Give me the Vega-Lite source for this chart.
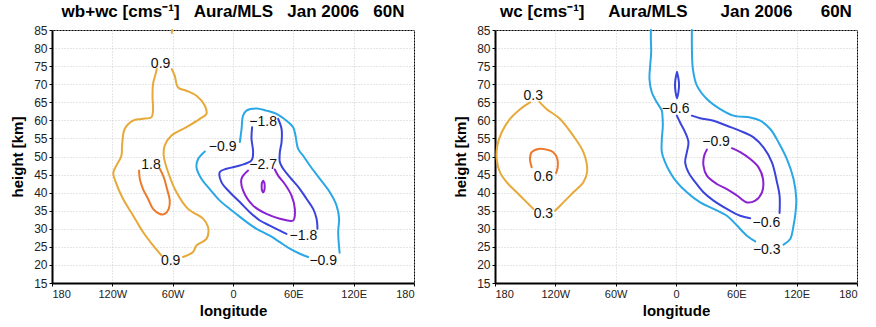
{
  "$schema": "https://vega.github.io/schema/vega-lite/v6.json",
  "padding": {"left": 10, "top": 2, "right": 5, "bottom": 5},
  "spacing": 38,
  "config": {
    "font": "Liberation Sans",
    "view": {"stroke": "#000", "strokeWidth": 1},
    "axis": {
      "domainColor": "#000", "domainWidth": 2, "tickColor": "#000", "tickSize": 3,
      "labelFontSize": 11, "labelColor": "#222", "labelPadding": 2, "labelOverlap": false, "labelFont": "Liberation Sans",
      "titleFontSize": 15, "titleFontWeight": "bold", "titleColor": "#000", "titleFont": "Liberation Sans",
      "grid": true, "gridColor": "#cccccc", "gridDash": [1, 2], "gridWidth": 1
    },
    "title": {"fontSize": 17, "fontWeight": "bold", "color": "#000", "font": "Liberation Sans"},
    "style": {"group-title": {"fontSize": 17, "fontWeight": "bold", "color": "#000", "font": "Liberation Sans"}}
  },
  "resolve": {"scale": {"color": "independent"}},
  "datasets": {
    "la": [
      {"seg": "p9a", "level": "0.9", "i": 0, "lon": -75.8, "h": 74.2},
      {"seg": "p9a", "level": "0.9", "i": 1, "lon": -76.8, "h": 73},
      {"seg": "p9a", "level": "0.9", "i": 2, "lon": -79.5, "h": 70.1},
      {"seg": "p9a", "level": "0.9", "i": 3, "lon": -80, "h": 66},
      {"seg": "p9a", "level": "0.9", "i": 4, "lon": -79.5, "h": 63.6},
      {"seg": "p9a", "level": "0.9", "i": 5, "lon": -81.1, "h": 60.9},
      {"seg": "p9a", "level": "0.9", "i": 6, "lon": -91.1, "h": 60.4},
      {"seg": "p9a", "level": "0.9", "i": 7, "lon": -99.4, "h": 59.9},
      {"seg": "p9a", "level": "0.9", "i": 8, "lon": -107.7, "h": 57.6},
      {"seg": "p9a", "level": "0.9", "i": 9, "lon": -110.3, "h": 53},
      {"seg": "p9a", "level": "0.9", "i": 10, "lon": -111, "h": 50.2},
      {"seg": "p9a", "level": "0.9", "i": 11, "lon": -119, "h": 45.5},
      {"seg": "p9a", "level": "0.9", "i": 12, "lon": -116.6, "h": 42.9},
      {"seg": "p9a", "level": "0.9", "i": 13, "lon": -109.4, "h": 38.3},
      {"seg": "p9a", "level": "0.9", "i": 14, "lon": -99.4, "h": 33.7},
      {"seg": "p9a", "level": "0.9", "i": 15, "lon": -89.5, "h": 29.1},
      {"seg": "p9a", "level": "0.9", "i": 16, "lon": -79.5, "h": 25.4},
      {"seg": "p9a", "level": "0.9", "i": 17, "lon": -71.1, "h": 22.6},
      {"seg": "p9b", "level": "0.9", "i": 0, "lon": -60.9, "h": 74.2},
      {"seg": "p9b", "level": "0.9", "i": 1, "lon": -57.9, "h": 72.3},
      {"seg": "p9b", "level": "0.9", "i": 2, "lon": -54.6, "h": 69.1},
      {"seg": "p9b", "level": "0.9", "i": 3, "lon": -46.3, "h": 68.2},
      {"seg": "p9b", "level": "0.9", "i": 4, "lon": -36.3, "h": 66.8},
      {"seg": "p9b", "level": "0.9", "i": 5, "lon": -28.1, "h": 64.1},
      {"seg": "p9b", "level": "0.9", "i": 6, "lon": -26.4, "h": 61.8},
      {"seg": "p9b", "level": "0.9", "i": 7, "lon": -33, "h": 60.4},
      {"seg": "p9b", "level": "0.9", "i": 8, "lon": -46.3, "h": 58.1},
      {"seg": "p9b", "level": "0.9", "i": 9, "lon": -61.2, "h": 55.8},
      {"seg": "p9b", "level": "0.9", "i": 10, "lon": -67.9, "h": 53},
      {"seg": "p9b", "level": "0.9", "i": 11, "lon": -68.9, "h": 50.2},
      {"seg": "p9b", "level": "0.9", "i": 12, "lon": -64.6, "h": 45.7},
      {"seg": "p9b", "level": "0.9", "i": 13, "lon": -56.2, "h": 40.1},
      {"seg": "p9b", "level": "0.9", "i": 14, "lon": -44.7, "h": 35.5},
      {"seg": "p9b", "level": "0.9", "i": 15, "lon": -29.8, "h": 32.8},
      {"seg": "p9b", "level": "0.9", "i": 16, "lon": -24.8, "h": 30.5},
      {"seg": "p9b", "level": "0.9", "i": 17, "lon": -26.4, "h": 27.2},
      {"seg": "p9b", "level": "0.9", "i": 18, "lon": -36.3, "h": 25.4},
      {"seg": "p9b", "level": "0.9", "i": 19, "lon": -39.7, "h": 23.6},
      {"seg": "p9b", "level": "0.9", "i": 20, "lon": -49.7, "h": 22.2},
      {"seg": "p9c", "level": "0.9", "i": 0, "lon": -60.6, "h": 85},
      {"seg": "p9c", "level": "0.9", "i": 1, "lon": -60.9, "h": 84.2},
      {"seg": "p18", "level": "1.8", "i": 0, "lon": -93.4, "h": 46.1},
      {"seg": "p18", "level": "1.8", "i": 1, "lon": -92.7, "h": 43.8},
      {"seg": "p18", "level": "1.8", "i": 2, "lon": -89.5, "h": 41},
      {"seg": "p18", "level": "1.8", "i": 3, "lon": -84.5, "h": 38.3},
      {"seg": "p18", "level": "1.8", "i": 4, "lon": -79.5, "h": 35.5},
      {"seg": "p18", "level": "1.8", "i": 5, "lon": -72.8, "h": 34.1},
      {"seg": "p18", "level": "1.8", "i": 6, "lon": -67.9, "h": 34.1},
      {"seg": "p18", "level": "1.8", "i": 7, "lon": -63.9, "h": 35.5},
      {"seg": "p18", "level": "1.8", "i": 8, "lon": -62.9, "h": 37.8},
      {"seg": "p18", "level": "1.8", "i": 9, "lon": -65.6, "h": 41},
      {"seg": "p18", "level": "1.8", "i": 10, "lon": -68.9, "h": 44.3},
      {"seg": "p18", "level": "1.8", "i": 11, "lon": -72.8, "h": 46.6},
      {"seg": "n9a", "level": "-0.9", "i": 0, "lon": -28, "h": 51.4},
      {"seg": "n9a", "level": "-0.9", "i": 1, "lon": -34.7, "h": 49.3},
      {"seg": "n9a", "level": "-0.9", "i": 2, "lon": -36.3, "h": 47},
      {"seg": "n9a", "level": "-0.9", "i": 3, "lon": -31.3, "h": 43.8},
      {"seg": "n9a", "level": "-0.9", "i": 4, "lon": -23.1, "h": 41},
      {"seg": "n9a", "level": "-0.9", "i": 5, "lon": -13.1, "h": 37.8},
      {"seg": "n9a", "level": "-0.9", "i": 6, "lon": -3.2, "h": 35.5},
      {"seg": "n9a", "level": "-0.9", "i": 7, "lon": 5.1, "h": 33.7},
      {"seg": "n9a", "level": "-0.9", "i": 8, "lon": 13.4, "h": 31.9},
      {"seg": "n9a", "level": "-0.9", "i": 9, "lon": 23.4, "h": 30},
      {"seg": "n9a", "level": "-0.9", "i": 10, "lon": 36.6, "h": 28.1},
      {"seg": "n9a", "level": "-0.9", "i": 11, "lon": 46.6, "h": 26.3},
      {"seg": "n9a", "level": "-0.9", "i": 12, "lon": 56.5, "h": 24.5},
      {"seg": "n9a", "level": "-0.9", "i": 13, "lon": 66.5, "h": 23.1},
      {"seg": "n9a", "level": "-0.9", "i": 14, "lon": 74.7, "h": 22.2},
      {"seg": "n9b", "level": "-0.9", "i": 0, "lon": 6.8, "h": 54},
      {"seg": "n9b", "level": "-0.9", "i": 1, "lon": 8.5, "h": 57.6},
      {"seg": "n9b", "level": "-0.9", "i": 2, "lon": 10, "h": 61.3},
      {"seg": "n9b", "level": "-0.9", "i": 3, "lon": 13.4, "h": 62.7},
      {"seg": "n9b", "level": "-0.9", "i": 4, "lon": 23.4, "h": 63.3},
      {"seg": "n9b", "level": "-0.9", "i": 5, "lon": 33.3, "h": 62.7},
      {"seg": "n9b", "level": "-0.9", "i": 6, "lon": 43.3, "h": 61.8},
      {"seg": "n9b", "level": "-0.9", "i": 7, "lon": 53.2, "h": 59.9},
      {"seg": "n9b", "level": "-0.9", "i": 8, "lon": 59.8, "h": 58.1},
      {"seg": "n9b", "level": "-0.9", "i": 9, "lon": 62, "h": 56},
      {"seg": "n9b", "level": "-0.9", "i": 10, "lon": 64.8, "h": 52.1},
      {"seg": "n9b", "level": "-0.9", "i": 11, "lon": 69.8, "h": 50.2},
      {"seg": "n9b", "level": "-0.9", "i": 12, "lon": 76.4, "h": 47.5},
      {"seg": "n9b", "level": "-0.9", "i": 13, "lon": 86.4, "h": 43.8},
      {"seg": "n9b", "level": "-0.9", "i": 14, "lon": 96.3, "h": 40.1},
      {"seg": "n9b", "level": "-0.9", "i": 15, "lon": 103, "h": 36.4},
      {"seg": "n9b", "level": "-0.9", "i": 16, "lon": 105.5, "h": 32.8},
      {"seg": "n9b", "level": "-0.9", "i": 17, "lon": 104.6, "h": 29.1},
      {"seg": "n9b", "level": "-0.9", "i": 18, "lon": 106, "h": 23.4},
      {"seg": "n18a", "level": "-1.8", "i": 0, "lon": 19, "h": 58.1},
      {"seg": "n18a", "level": "-1.8", "i": 1, "lon": 18.4, "h": 54.9},
      {"seg": "n18a", "level": "-1.8", "i": 2, "lon": 20, "h": 51.2},
      {"seg": "n18a", "level": "-1.8", "i": 3, "lon": 18.4, "h": 48.9},
      {"seg": "n18a", "level": "-1.8", "i": 4, "lon": 6.8, "h": 47.5},
      {"seg": "n18a", "level": "-1.8", "i": 5, "lon": -6.5, "h": 46.6},
      {"seg": "n18a", "level": "-1.8", "i": 6, "lon": -13.1, "h": 45.7},
      {"seg": "n18a", "level": "-1.8", "i": 7, "lon": -11.5, "h": 42.9},
      {"seg": "n18a", "level": "-1.8", "i": 8, "lon": -3.2, "h": 40.1},
      {"seg": "n18a", "level": "-1.8", "i": 9, "lon": 6.8, "h": 37.4},
      {"seg": "n18a", "level": "-1.8", "i": 10, "lon": 16.7, "h": 34.6},
      {"seg": "n18a", "level": "-1.8", "i": 11, "lon": 26.7, "h": 32.3},
      {"seg": "n18a", "level": "-1.8", "i": 12, "lon": 36.6, "h": 30.9},
      {"seg": "n18a", "level": "-1.8", "i": 13, "lon": 46.6, "h": 29.5},
      {"seg": "n18a", "level": "-1.8", "i": 14, "lon": 53.2, "h": 28.6},
      {"seg": "n18b", "level": "-1.8", "i": 0, "lon": 44.9, "h": 60.4},
      {"seg": "n18b", "level": "-1.8", "i": 1, "lon": 48.3, "h": 57.6},
      {"seg": "n18b", "level": "-1.8", "i": 2, "lon": 48.3, "h": 54},
      {"seg": "n18b", "level": "-1.8", "i": 3, "lon": 46.6, "h": 51.2},
      {"seg": "n18b", "level": "-1.8", "i": 4, "lon": 46.6, "h": 48.4},
      {"seg": "n18b", "level": "-1.8", "i": 5, "lon": 49.9, "h": 46.6},
      {"seg": "n18b", "level": "-1.8", "i": 6, "lon": 56.5, "h": 44.3},
      {"seg": "n18b", "level": "-1.8", "i": 7, "lon": 66.5, "h": 41},
      {"seg": "n18b", "level": "-1.8", "i": 8, "lon": 73.1, "h": 38.3},
      {"seg": "n18b", "level": "-1.8", "i": 9, "lon": 79.7, "h": 35.5},
      {"seg": "n18b", "level": "-1.8", "i": 10, "lon": 83.1, "h": 32.8},
      {"seg": "n18b", "level": "-1.8", "i": 11, "lon": 84, "h": 30},
      {"seg": "n27a", "level": "-2.7", "i": 0, "lon": 15, "h": 46.1},
      {"seg": "n27a", "level": "-2.7", "i": 1, "lon": 8.4, "h": 43.8},
      {"seg": "n27a", "level": "-2.7", "i": 2, "lon": 10, "h": 40.6},
      {"seg": "n27a", "level": "-2.7", "i": 3, "lon": 20, "h": 36.4},
      {"seg": "n27a", "level": "-2.7", "i": 4, "lon": 33.3, "h": 34.1},
      {"seg": "n27a", "level": "-2.7", "i": 5, "lon": 46.6, "h": 32.8},
      {"seg": "n27a", "level": "-2.7", "i": 6, "lon": 59.8, "h": 32.3},
      {"seg": "n27a", "level": "-2.7", "i": 7, "lon": 61.5, "h": 35.5},
      {"seg": "n27a", "level": "-2.7", "i": 8, "lon": 58.2, "h": 39.2},
      {"seg": "n27a", "level": "-2.7", "i": 9, "lon": 51.5, "h": 42.4},
      {"seg": "n27a", "level": "-2.7", "i": 10, "lon": 44.9, "h": 44.7},
      {"seg": "n27a", "level": "-2.7", "i": 11, "lon": 41.6, "h": 46.4},
      {"seg": "n27b", "level": "-2.7", "i": 0, "lon": 30, "h": 43.3},
      {"seg": "n27b", "level": "-2.7", "i": 1, "lon": 31.2, "h": 42.7},
      {"seg": "n27b", "level": "-2.7", "i": 2, "lon": 31.5, "h": 41.7},
      {"seg": "n27b", "level": "-2.7", "i": 3, "lon": 31.2, "h": 40.7},
      {"seg": "n27b", "level": "-2.7", "i": 4, "lon": 30, "h": 40.1},
      {"seg": "n27b", "level": "-2.7", "i": 5, "lon": 28.8, "h": 40.7},
      {"seg": "n27b", "level": "-2.7", "i": 6, "lon": 28.5, "h": 41.7},
      {"seg": "n27b", "level": "-2.7", "i": 7, "lon": 28.8, "h": 42.7},
      {"seg": "n27b", "level": "-2.7", "i": 8, "lon": 30, "h": 43.3}
    ],
    "ta": [
      {"label": "0.9", "lon": -72, "h": 75.6},
      {"label": "0.9", "lon": -62, "h": 21.2},
      {"label": "1.8", "lon": -81.5, "h": 47.7},
      {"label": "−0.9", "lon": -10.3, "h": 52.6},
      {"label": "−1.8", "lon": 30, "h": 59.5},
      {"label": "−2.7", "lon": 30, "h": 47.7},
      {"label": "−1.8", "lon": 70, "h": 27.9},
      {"label": "−0.9", "lon": 89.7, "h": 21}
    ],
    "lb": [
      {"seg": "p3a", "level": "0.3", "i": 0, "lon": -145.2, "h": 65},
      {"seg": "p3a", "level": "0.3", "i": 1, "lon": -155.1, "h": 63.1},
      {"seg": "p3a", "level": "0.3", "i": 2, "lon": -165.1, "h": 60.4},
      {"seg": "p3a", "level": "0.3", "i": 3, "lon": -173.3, "h": 56.7},
      {"seg": "p3a", "level": "0.3", "i": 4, "lon": -177.7, "h": 53},
      {"seg": "p3a", "level": "0.3", "i": 5, "lon": -178.3, "h": 49.3},
      {"seg": "p3a", "level": "0.3", "i": 6, "lon": -175, "h": 45.6},
      {"seg": "p3a", "level": "0.3", "i": 7, "lon": -168.4, "h": 42.9},
      {"seg": "p3a", "level": "0.3", "i": 8, "lon": -158.4, "h": 40.1},
      {"seg": "p3a", "level": "0.3", "i": 9, "lon": -148.4, "h": 37.3},
      {"seg": "p3a", "level": "0.3", "i": 10, "lon": -141.9, "h": 35.5},
      {"seg": "p3b", "level": "0.3", "i": 0, "lon": -135.9, "h": 65.1},
      {"seg": "p3b", "level": "0.3", "i": 1, "lon": -128.5, "h": 63.1},
      {"seg": "p3b", "level": "0.3", "i": 2, "lon": -115.3, "h": 60.4},
      {"seg": "p3b", "level": "0.3", "i": 3, "lon": -102.1, "h": 55.7},
      {"seg": "p3b", "level": "0.3", "i": 4, "lon": -92.1, "h": 51.2},
      {"seg": "p3b", "level": "0.3", "i": 5, "lon": -88.3, "h": 46},
      {"seg": "p3b", "level": "0.3", "i": 6, "lon": -92.1, "h": 42.9},
      {"seg": "p3b", "level": "0.3", "i": 7, "lon": -102.1, "h": 40.1},
      {"seg": "p3b", "level": "0.3", "i": 8, "lon": -112, "h": 37.3},
      {"seg": "p3b", "level": "0.3", "i": 9, "lon": -120.3, "h": 35},
      {"seg": "p6", "level": "0.6", "i": 0, "lon": -143.5, "h": 47},
      {"seg": "p6", "level": "0.6", "i": 1, "lon": -145.2, "h": 49.3},
      {"seg": "p6", "level": "0.6", "i": 2, "lon": -143.5, "h": 51.2},
      {"seg": "p6", "level": "0.6", "i": 3, "lon": -136.9, "h": 52.1},
      {"seg": "p6", "level": "0.6", "i": 4, "lon": -128.5, "h": 51.9},
      {"seg": "p6", "level": "0.6", "i": 5, "lon": -122, "h": 51.2},
      {"seg": "p6", "level": "0.6", "i": 6, "lon": -118, "h": 49.3},
      {"seg": "p6", "level": "0.6", "i": 7, "lon": -117.7, "h": 47},
      {"seg": "p6", "level": "0.6", "i": 8, "lon": -119.3, "h": 45.4},
      {"seg": "n3a", "level": "-0.3", "i": 0, "lon": -25, "h": 85},
      {"seg": "n3a", "level": "-0.3", "i": 1, "lon": -25, "h": 82.5},
      {"seg": "n3a", "level": "-0.3", "i": 2, "lon": -24.7, "h": 78.8},
      {"seg": "n3a", "level": "-0.3", "i": 3, "lon": -25.7, "h": 75.1},
      {"seg": "n3a", "level": "-0.3", "i": 4, "lon": -26.4, "h": 71.4},
      {"seg": "n3a", "level": "-0.3", "i": 5, "lon": -24, "h": 67.7},
      {"seg": "n3a", "level": "-0.3", "i": 6, "lon": -19.1, "h": 65},
      {"seg": "n3a", "level": "-0.3", "i": 7, "lon": -14.1, "h": 62.7},
      {"seg": "n3a", "level": "-0.3", "i": 8, "lon": -13.6, "h": 61.7},
      {"seg": "n3a", "level": "-0.3", "i": 9, "lon": -13.1, "h": 58.5},
      {"seg": "n3a", "level": "-0.3", "i": 10, "lon": -14.1, "h": 54.8},
      {"seg": "n3a", "level": "-0.3", "i": 11, "lon": -14.1, "h": 51.2},
      {"seg": "n3a", "level": "-0.3", "i": 12, "lon": -10.8, "h": 48.4},
      {"seg": "n3a", "level": "-0.3", "i": 13, "lon": -5.8, "h": 45.6},
      {"seg": "n3a", "level": "-0.3", "i": 14, "lon": 0.8, "h": 42.9},
      {"seg": "n3a", "level": "-0.3", "i": 15, "lon": 10.8, "h": 40.1},
      {"seg": "n3a", "level": "-0.3", "i": 16, "lon": 24, "h": 37.3},
      {"seg": "n3a", "level": "-0.3", "i": 17, "lon": 37.3, "h": 35.5},
      {"seg": "n3a", "level": "-0.3", "i": 18, "lon": 50.6, "h": 33.6},
      {"seg": "n3a", "level": "-0.3", "i": 19, "lon": 60.6, "h": 30.9},
      {"seg": "n3a", "level": "-0.3", "i": 20, "lon": 70.5, "h": 28.1},
      {"seg": "n3a", "level": "-0.3", "i": 21, "lon": 78.8, "h": 26.5},
      {"seg": "n3b", "level": "-0.3", "i": 0, "lon": 15.8, "h": 85},
      {"seg": "n3b", "level": "-0.3", "i": 1, "lon": 15.8, "h": 80.6},
      {"seg": "n3b", "level": "-0.3", "i": 2, "lon": 16.8, "h": 74.2},
      {"seg": "n3b", "level": "-0.3", "i": 3, "lon": 20.8, "h": 69.6},
      {"seg": "n3b", "level": "-0.3", "i": 4, "lon": 30.7, "h": 65.9},
      {"seg": "n3b", "level": "-0.3", "i": 5, "lon": 44, "h": 63.1},
      {"seg": "n3b", "level": "-0.3", "i": 6, "lon": 57.2, "h": 61.3},
      {"seg": "n3b", "level": "-0.3", "i": 7, "lon": 73.8, "h": 60.8},
      {"seg": "n3b", "level": "-0.3", "i": 8, "lon": 83.8, "h": 59.9},
      {"seg": "n3b", "level": "-0.3", "i": 9, "lon": 93.7, "h": 57.6},
      {"seg": "n3b", "level": "-0.3", "i": 10, "lon": 102, "h": 53.9},
      {"seg": "n3b", "level": "-0.3", "i": 11, "lon": 110.3, "h": 49.3},
      {"seg": "n3b", "level": "-0.3", "i": 12, "lon": 116.9, "h": 43.8},
      {"seg": "n3b", "level": "-0.3", "i": 13, "lon": 119.6, "h": 38.3},
      {"seg": "n3b", "level": "-0.3", "i": 14, "lon": 118.9, "h": 34.6},
      {"seg": "n3b", "level": "-0.3", "i": 15, "lon": 116.9, "h": 30.9},
      {"seg": "n3b", "level": "-0.3", "i": 16, "lon": 113.6, "h": 27.2},
      {"seg": "n3b", "level": "-0.3", "i": 17, "lon": 107, "h": 25.6},
      {"seg": "n6a", "level": "-0.6", "i": 0, "lon": 0.8, "h": 61.3},
      {"seg": "n6a", "level": "-0.6", "i": 1, "lon": 4.1, "h": 59.4},
      {"seg": "n6a", "level": "-0.6", "i": 2, "lon": 9.1, "h": 56.7},
      {"seg": "n6a", "level": "-0.6", "i": 3, "lon": 12.4, "h": 53.9},
      {"seg": "n6a", "level": "-0.6", "i": 4, "lon": 10.8, "h": 51.2},
      {"seg": "n6a", "level": "-0.6", "i": 5, "lon": 9.1, "h": 48.4},
      {"seg": "n6a", "level": "-0.6", "i": 6, "lon": 12.4, "h": 45.6},
      {"seg": "n6a", "level": "-0.6", "i": 7, "lon": 19.1, "h": 42.9},
      {"seg": "n6a", "level": "-0.6", "i": 8, "lon": 27.3, "h": 40.1},
      {"seg": "n6a", "level": "-0.6", "i": 9, "lon": 37.3, "h": 37.8},
      {"seg": "n6a", "level": "-0.6", "i": 10, "lon": 50.6, "h": 35.5},
      {"seg": "n6a", "level": "-0.6", "i": 11, "lon": 63.9, "h": 33.6},
      {"seg": "n6a", "level": "-0.6", "i": 12, "lon": 73.8, "h": 32.9},
      {"seg": "n6b", "level": "-0.6", "i": 0, "lon": 15.8, "h": 61.3},
      {"seg": "n6b", "level": "-0.6", "i": 1, "lon": 24, "h": 60.6},
      {"seg": "n6b", "level": "-0.6", "i": 2, "lon": 37.3, "h": 59.9},
      {"seg": "n6b", "level": "-0.6", "i": 3, "lon": 50.6, "h": 58.5},
      {"seg": "n6b", "level": "-0.6", "i": 4, "lon": 63.9, "h": 57.1},
      {"seg": "n6b", "level": "-0.6", "i": 5, "lon": 77.1, "h": 55.3},
      {"seg": "n6b", "level": "-0.6", "i": 6, "lon": 87, "h": 52.5},
      {"seg": "n6b", "level": "-0.6", "i": 7, "lon": 95.4, "h": 48.4},
      {"seg": "n6b", "level": "-0.6", "i": 8, "lon": 100.4, "h": 42.9},
      {"seg": "n6b", "level": "-0.6", "i": 9, "lon": 103, "h": 39.2},
      {"seg": "n6b", "level": "-0.6", "i": 10, "lon": 103, "h": 34.4},
      {"seg": "n6c", "level": "-0.6", "i": 0, "lon": 1, "h": 73.4},
      {"seg": "n6c", "level": "-0.6", "i": 1, "lon": 2.5, "h": 71.5},
      {"seg": "n6c", "level": "-0.6", "i": 2, "lon": 3, "h": 69.8},
      {"seg": "n6c", "level": "-0.6", "i": 3, "lon": 2.5, "h": 68},
      {"seg": "n6c", "level": "-0.6", "i": 4, "lon": 1, "h": 66.1},
      {"seg": "n6c", "level": "-0.6", "i": 5, "lon": -0.5, "h": 68},
      {"seg": "n6c", "level": "-0.6", "i": 6, "lon": -1, "h": 69.8},
      {"seg": "n6c", "level": "-0.6", "i": 7, "lon": -0.5, "h": 71.5},
      {"seg": "n6c", "level": "-0.6", "i": 8, "lon": 1, "h": 73.4},
      {"seg": "n9", "level": "-0.9", "i": 0, "lon": 30.7, "h": 51.9},
      {"seg": "n9", "level": "-0.9", "i": 1, "lon": 28, "h": 50.2},
      {"seg": "n9", "level": "-0.9", "i": 2, "lon": 27.3, "h": 47.5},
      {"seg": "n9", "level": "-0.9", "i": 3, "lon": 30.7, "h": 44.7},
      {"seg": "n9", "level": "-0.9", "i": 4, "lon": 40.6, "h": 42.4},
      {"seg": "n9", "level": "-0.9", "i": 5, "lon": 50.6, "h": 41},
      {"seg": "n9", "level": "-0.9", "i": 6, "lon": 60.6, "h": 39.2},
      {"seg": "n9", "level": "-0.9", "i": 7, "lon": 70.5, "h": 37.3},
      {"seg": "n9", "level": "-0.9", "i": 8, "lon": 78.8, "h": 37.8},
      {"seg": "n9", "level": "-0.9", "i": 9, "lon": 85.5, "h": 40.1},
      {"seg": "n9", "level": "-0.9", "i": 10, "lon": 86.5, "h": 43.8},
      {"seg": "n9", "level": "-0.9", "i": 11, "lon": 82.1, "h": 47},
      {"seg": "n9", "level": "-0.9", "i": 12, "lon": 73.8, "h": 49.3},
      {"seg": "n9", "level": "-0.9", "i": 13, "lon": 63.9, "h": 51.2},
      {"seg": "n9", "level": "-0.9", "i": 14, "lon": 55.6, "h": 52.3}
    ],
    "tb": [
      {"label": "0.3", "lon": -141.9, "h": 66.8},
      {"label": "0.6", "lon": -131.9, "h": 44.4},
      {"label": "0.3", "lon": -131.9, "h": 34.1},
      {"label": "−0.6", "lon": -0.4, "h": 63.1},
      {"label": "−0.9", "lon": 39.8, "h": 53.9},
      {"label": "−0.6", "lon": 89.9, "h": 31.5},
      {"label": "−0.3", "lon": 90.2, "h": 24.2}
    ]
  },
  "hconcat": [
    {
      "width": 362,
      "height": 253,
      "title": {"text": "wb+wc [cms⁻¹]\u00a0\u00a0\u00a0Aura/MLS\u00a0\u00a0\u00a0Jan 2006\u00a0\u00a0\u00a060N", "fontSize": 17, "fontWeight": "bold", "color": "#000", "font": "Liberation Sans", "offset": 3, "anchor": "middle", "frame": "group"},
      "encoding": {
        "x": {"field": "lon", "type": "quantitative", "scale": {"domain": [-180, 180], "nice": false},
              "axis": {"values": [-180, -120, -60, 0, 60, 120, 180], "title": "longitude", "titlePadding": 4, "labelOverlap": false, "labelFontSize": 11,
                       "labelExpr": "datum.value == 0 ? '0' : (abs(datum.value) == 180 ? '180' : (datum.value < 0 ? (-datum.value) + 'W' : datum.value + 'E'))"}},
        "y": {"field": "h", "type": "quantitative", "scale": {"domain": [15, 85], "nice": false},
              "axis": {"values": [15, 20, 25, 30, 35, 40, 45, 50, 55, 60, 65, 70, 75, 80, 85], "title": "height [km]", "titlePadding": 8, "labelOverlap": false, "labelFontSize": 12}}
      },
      "layer": [
        {
          "data": {"name": "la"},
          "mark": {"type": "line", "strokeWidth": 2, "interpolate": "catmull-rom", "strokeCap": "round"},
          "encoding": {
            "detail": {"field": "seg"},
            "order": {"field": "i", "type": "quantitative"},
            "color": {"field": "level", "type": "nominal", "legend": null,
                      "scale": {"domain": ["0.9", "1.8", "-0.9", "-1.8", "-2.7"], "range": ["#e6a93a", "#ec7a2c", "#2aa7e6", "#3a44dc", "#8a22d2"]}}
          }
        },
        {
          "data": {"name": "ta"},
          "mark": {"type": "text", "fontSize": 14, "color": "#111", "baseline": "middle", "align": "center", "font": "Liberation Sans"},
          "encoding": {"text": {"field": "label"}}
        }
      ]
    },
    {
      "width": 362,
      "height": 253,
      "title": {"text": "wc [cms⁻¹]\u00a0\u00a0\u00a0\u00a0\u00a0Aura/MLS\u00a0\u00a0\u00a0\u00a0\u00a0\u00a0\u00a0Jan 2006\u00a0\u00a0\u00a0\u00a0\u00a0\u00a060N", "fontSize": 17, "fontWeight": "bold", "color": "#000", "font": "Liberation Sans", "offset": 3, "anchor": "middle", "frame": "group"},
      "encoding": {
        "x": {"field": "lon", "type": "quantitative", "scale": {"domain": [-180, 180], "nice": false},
              "axis": {"values": [-180, -120, -60, 0, 60, 120, 180], "title": "longitude", "titlePadding": 4, "labelOverlap": false, "labelFontSize": 11,
                       "labelExpr": "datum.value == 0 ? '0' : (abs(datum.value) == 180 ? '180' : (datum.value < 0 ? (-datum.value) + 'W' : datum.value + 'E'))"}},
        "y": {"field": "h", "type": "quantitative", "scale": {"domain": [15, 85], "nice": false},
              "axis": {"values": [15, 20, 25, 30, 35, 40, 45, 50, 55, 60, 65, 70, 75, 80, 85], "title": "height [km]", "titlePadding": 8, "labelOverlap": false, "labelFontSize": 12}}
      },
      "layer": [
        {
          "data": {"name": "lb"},
          "mark": {"type": "line", "strokeWidth": 2, "interpolate": "catmull-rom", "strokeCap": "round"},
          "encoding": {
            "detail": {"field": "seg"},
            "order": {"field": "i", "type": "quantitative"},
            "color": {"field": "level", "type": "nominal", "legend": null,
                      "scale": {"domain": ["0.3", "0.6", "-0.3", "-0.6", "-0.9"], "range": ["#e6a93a", "#ec7a2c", "#2aa7e6", "#3a44dc", "#8a22d2"]}}
          }
        },
        {
          "data": {"name": "tb"},
          "mark": {"type": "text", "fontSize": 14, "color": "#111", "baseline": "middle", "align": "center", "font": "Liberation Sans"},
          "encoding": {"text": {"field": "label"}}
        }
      ]
    }
  ]
}
